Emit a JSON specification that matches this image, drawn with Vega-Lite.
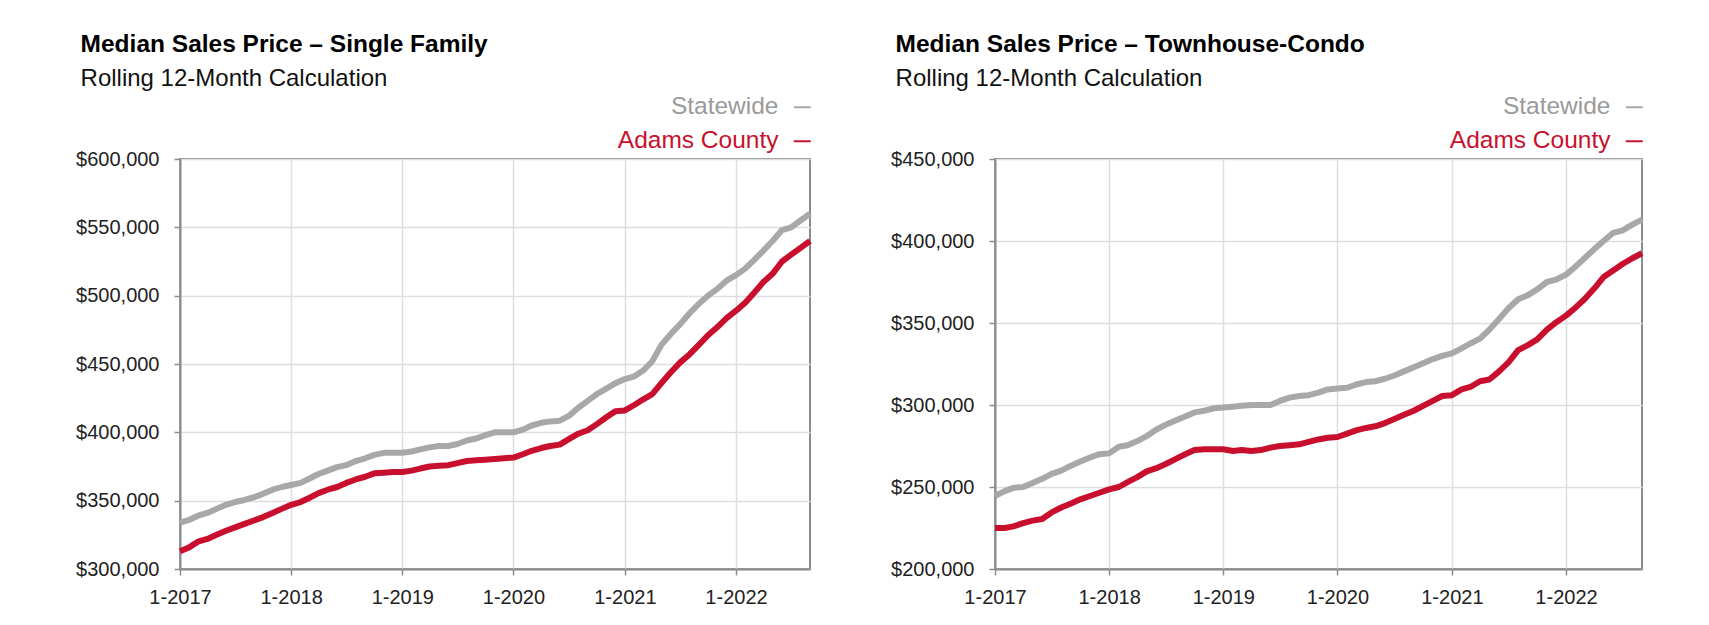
{
  "$schema": "https://vega.github.io/schema/vega-lite/v6.json",
  "background": "white",
  "padding": {"left": 74, "top": 31, "right": 5, "bottom": 5},
  "datasets": {
    "sf": [
      {"date":"2017-01-01","Statewide":334000,"Adams County":313000},
      {"date":"2017-02-01","Statewide":336000,"Adams County":316000},
      {"date":"2017-03-01","Statewide":339000,"Adams County":320000},
      {"date":"2017-04-01","Statewide":341000,"Adams County":322000},
      {"date":"2017-05-01","Statewide":344000,"Adams County":325000},
      {"date":"2017-06-01","Statewide":347000,"Adams County":328000},
      {"date":"2017-07-01","Statewide":349000,"Adams County":330500},
      {"date":"2017-08-01","Statewide":350500,"Adams County":333000},
      {"date":"2017-09-01","Statewide":352500,"Adams County":335500},
      {"date":"2017-10-01","Statewide":355000,"Adams County":338000},
      {"date":"2017-11-01","Statewide":358000,"Adams County":341000},
      {"date":"2017-12-01","Statewide":360000,"Adams County":344000},
      {"date":"2018-01-01","Statewide":361500,"Adams County":347000},
      {"date":"2018-02-01","Statewide":363000,"Adams County":349000},
      {"date":"2018-03-01","Statewide":366000,"Adams County":352000},
      {"date":"2018-04-01","Statewide":369500,"Adams County":355500},
      {"date":"2018-05-01","Statewide":372000,"Adams County":358000},
      {"date":"2018-06-01","Statewide":374500,"Adams County":360000},
      {"date":"2018-07-01","Statewide":376000,"Adams County":363000},
      {"date":"2018-08-01","Statewide":379000,"Adams County":365500},
      {"date":"2018-09-01","Statewide":381000,"Adams County":367500},
      {"date":"2018-10-01","Statewide":383500,"Adams County":370000},
      {"date":"2018-11-01","Statewide":385000,"Adams County":370500},
      {"date":"2018-12-01","Statewide":385000,"Adams County":371000},
      {"date":"2019-01-01","Statewide":385000,"Adams County":371000},
      {"date":"2019-02-01","Statewide":386000,"Adams County":372000},
      {"date":"2019-03-01","Statewide":387500,"Adams County":373500},
      {"date":"2019-04-01","Statewide":389000,"Adams County":375000},
      {"date":"2019-05-01","Statewide":390000,"Adams County":375500},
      {"date":"2019-06-01","Statewide":390000,"Adams County":376000},
      {"date":"2019-07-01","Statewide":391500,"Adams County":377500},
      {"date":"2019-08-01","Statewide":394000,"Adams County":379000},
      {"date":"2019-09-01","Statewide":395500,"Adams County":379500},
      {"date":"2019-10-01","Statewide":398000,"Adams County":380000},
      {"date":"2019-11-01","Statewide":400000,"Adams County":380500},
      {"date":"2019-12-01","Statewide":400000,"Adams County":381000},
      {"date":"2020-01-01","Statewide":400000,"Adams County":381500},
      {"date":"2020-02-01","Statewide":402000,"Adams County":384000},
      {"date":"2020-03-01","Statewide":405000,"Adams County":386500},
      {"date":"2020-04-01","Statewide":407000,"Adams County":388500},
      {"date":"2020-05-01","Statewide":408000,"Adams County":390000},
      {"date":"2020-06-01","Statewide":408500,"Adams County":391000},
      {"date":"2020-07-01","Statewide":412000,"Adams County":395000},
      {"date":"2020-08-01","Statewide":418000,"Adams County":399000},
      {"date":"2020-09-01","Statewide":423000,"Adams County":401500},
      {"date":"2020-10-01","Statewide":428000,"Adams County":406000},
      {"date":"2020-11-01","Statewide":432000,"Adams County":411000},
      {"date":"2020-12-01","Statewide":436000,"Adams County":415500},
      {"date":"2021-01-01","Statewide":439000,"Adams County":416000},
      {"date":"2021-02-01","Statewide":441000,"Adams County":420000},
      {"date":"2021-03-01","Statewide":445000,"Adams County":424000},
      {"date":"2021-04-01","Statewide":452000,"Adams County":428000},
      {"date":"2021-05-01","Statewide":464000,"Adams County":436000},
      {"date":"2021-06-01","Statewide":472000,"Adams County":444000},
      {"date":"2021-07-01","Statewide":479000,"Adams County":451000},
      {"date":"2021-08-01","Statewide":487000,"Adams County":457000},
      {"date":"2021-09-01","Statewide":494000,"Adams County":464000},
      {"date":"2021-10-01","Statewide":500000,"Adams County":471000},
      {"date":"2021-11-01","Statewide":505000,"Adams County":477000},
      {"date":"2021-12-01","Statewide":511000,"Adams County":483500},
      {"date":"2022-01-01","Statewide":515000,"Adams County":489000},
      {"date":"2022-02-01","Statewide":520000,"Adams County":495000},
      {"date":"2022-03-01","Statewide":526000,"Adams County":502000},
      {"date":"2022-04-01","Statewide":533000,"Adams County":510000},
      {"date":"2022-05-01","Statewide":540000,"Adams County":516000},
      {"date":"2022-06-01","Statewide":548000,"Adams County":525000},
      {"date":"2022-07-01","Statewide":550000,"Adams County":530000},
      {"date":"2022-08-01","Statewide":555000,"Adams County":535000},
      {"date":"2022-09-01","Statewide":560000,"Adams County":540000}
    ],
    "tc": [
      {"date":"2017-01-01","Statewide":244500,"Adams County":225000},
      {"date":"2017-02-01","Statewide":247500,"Adams County":225000},
      {"date":"2017-03-01","Statewide":249500,"Adams County":226000},
      {"date":"2017-04-01","Statewide":250000,"Adams County":228000},
      {"date":"2017-05-01","Statewide":252500,"Adams County":229500},
      {"date":"2017-06-01","Statewide":255000,"Adams County":230500},
      {"date":"2017-07-01","Statewide":258000,"Adams County":234500},
      {"date":"2017-08-01","Statewide":260000,"Adams County":237500},
      {"date":"2017-09-01","Statewide":263000,"Adams County":240000},
      {"date":"2017-10-01","Statewide":265500,"Adams County":242500},
      {"date":"2017-11-01","Statewide":268000,"Adams County":244500},
      {"date":"2017-12-01","Statewide":270000,"Adams County":246500},
      {"date":"2018-01-01","Statewide":270500,"Adams County":248500},
      {"date":"2018-02-01","Statewide":274500,"Adams County":250000},
      {"date":"2018-03-01","Statewide":275500,"Adams County":253000},
      {"date":"2018-04-01","Statewide":278000,"Adams County":256000},
      {"date":"2018-05-01","Statewide":281000,"Adams County":259500},
      {"date":"2018-06-01","Statewide":285000,"Adams County":261500},
      {"date":"2018-07-01","Statewide":288000,"Adams County":264000},
      {"date":"2018-08-01","Statewide":290500,"Adams County":267000},
      {"date":"2018-09-01","Statewide":293000,"Adams County":270000},
      {"date":"2018-10-01","Statewide":295500,"Adams County":272500},
      {"date":"2018-11-01","Statewide":296500,"Adams County":273000},
      {"date":"2018-12-01","Statewide":298000,"Adams County":273000},
      {"date":"2019-01-01","Statewide":298500,"Adams County":273000},
      {"date":"2019-02-01","Statewide":299000,"Adams County":272000},
      {"date":"2019-03-01","Statewide":299500,"Adams County":272500},
      {"date":"2019-04-01","Statewide":300000,"Adams County":272000},
      {"date":"2019-05-01","Statewide":300000,"Adams County":272500},
      {"date":"2019-06-01","Statewide":300000,"Adams County":274000},
      {"date":"2019-07-01","Statewide":302500,"Adams County":275000},
      {"date":"2019-08-01","Statewide":304500,"Adams County":275500},
      {"date":"2019-09-01","Statewide":305500,"Adams County":276000},
      {"date":"2019-10-01","Statewide":306000,"Adams County":277500},
      {"date":"2019-11-01","Statewide":307500,"Adams County":279000},
      {"date":"2019-12-01","Statewide":309500,"Adams County":280000},
      {"date":"2020-01-01","Statewide":310000,"Adams County":280500},
      {"date":"2020-02-01","Statewide":310500,"Adams County":282500},
      {"date":"2020-03-01","Statewide":312500,"Adams County":284500},
      {"date":"2020-04-01","Statewide":314000,"Adams County":286000},
      {"date":"2020-05-01","Statewide":314500,"Adams County":287000},
      {"date":"2020-06-01","Statewide":316000,"Adams County":289000},
      {"date":"2020-07-01","Statewide":318000,"Adams County":291500},
      {"date":"2020-08-01","Statewide":320500,"Adams County":294000},
      {"date":"2020-09-01","Statewide":323000,"Adams County":296500},
      {"date":"2020-10-01","Statewide":325500,"Adams County":299500},
      {"date":"2020-11-01","Statewide":328000,"Adams County":302500},
      {"date":"2020-12-01","Statewide":330000,"Adams County":305500},
      {"date":"2021-01-01","Statewide":331500,"Adams County":306000},
      {"date":"2021-02-01","Statewide":334500,"Adams County":309500},
      {"date":"2021-03-01","Statewide":337500,"Adams County":311000},
      {"date":"2021-04-01","Statewide":340500,"Adams County":314500},
      {"date":"2021-05-01","Statewide":346000,"Adams County":315500},
      {"date":"2021-06-01","Statewide":352500,"Adams County":320500},
      {"date":"2021-07-01","Statewide":359000,"Adams County":326000},
      {"date":"2021-08-01","Statewide":364500,"Adams County":333500},
      {"date":"2021-09-01","Statewide":367000,"Adams County":336500},
      {"date":"2021-10-01","Statewide":370500,"Adams County":340000},
      {"date":"2021-11-01","Statewide":375000,"Adams County":346000},
      {"date":"2021-12-01","Statewide":376500,"Adams County":350500},
      {"date":"2022-01-01","Statewide":379500,"Adams County":354500},
      {"date":"2022-02-01","Statewide":384500,"Adams County":359500},
      {"date":"2022-03-01","Statewide":389500,"Adams County":364500},
      {"date":"2022-04-01","Statewide":395000,"Adams County":371000},
      {"date":"2022-05-01","Statewide":400000,"Adams County":378000},
      {"date":"2022-06-01","Statewide":405000,"Adams County":382000},
      {"date":"2022-07-01","Statewide":406500,"Adams County":386000},
      {"date":"2022-08-01","Statewide":410000,"Adams County":389500},
      {"date":"2022-09-01","Statewide":413000,"Adams County":392500}
    ]
  },
  "hconcat": [
    {
      "width": 630,
      "height": 410,
      "data": {"name": "sf"},
      "transform": [{"fold": ["Statewide", "Adams County"], "as": ["series", "price"]}],
      "title": {"text": "Median Sales Price – Single Family", "subtitle": "Rolling 12-Month Calculation"},
      "mark": {"type": "line", "strokeWidth": 6, "strokeJoin": "round"},
      "encoding": {
        "x": {"field": "date", "type": "temporal", "scale": {"nice": false},
              "axis": {"title": null, "format": "%-m-%Y", "tickCount": {"interval": "year", "step": 1}, "labelFlush": false}},
        "y": {"field": "price", "type": "quantitative", "scale": {"domain": [300000, 600000], "nice": false},
              "axis": {"title": null, "format": "$,.0f", "values": [300000, 350000, 400000, 450000, 500000, 550000, 600000]}},
        "color": {"field": "series", "type": "nominal",
                  "scale": {"domain": ["Statewide", "Adams County"], "range": ["#a8a8a8", "#c8102e"]}}
      }
    },
    {
      "width": 647,
      "height": 410,
      "data": {"name": "tc"},
      "transform": [{"fold": ["Statewide", "Adams County"], "as": ["series", "price"]}],
      "title": {"text": "Median Sales Price – Townhouse-Condo", "subtitle": "Rolling 12-Month Calculation"},
      "mark": {"type": "line", "strokeWidth": 6, "strokeJoin": "round"},
      "encoding": {
        "x": {"field": "date", "type": "temporal", "scale": {"nice": false},
              "axis": {"title": null, "format": "%-m-%Y", "tickCount": {"interval": "year", "step": 1}, "labelFlush": false}},
        "y": {"field": "price", "type": "quantitative", "scale": {"domain": [200000, 450000], "nice": false},
              "axis": {"title": null, "format": "$,.0f", "values": [200000, 250000, 300000, 350000, 400000, 450000]}},
        "color": {"field": "series", "type": "nominal",
                  "scale": {"domain": ["Statewide", "Adams County"], "range": ["#a8a8a8", "#c8102e"]}}
      }
    }
  ],
  "spacing": 75,
  "resolve": {"legend": {"color": "independent"}},
  "config": {
    "font": "Liberation Sans",
    "view": {"stroke": "#8c8c8c", "strokeWidth": 2},
    "axis": {
      "labelFont": "Liberation Sans", "labelFontSize": 20, "labelColor": "#222222",
      "domainColor": "#8c8c8c", "domainWidth": 2,
      "tickColor": "#8c8c8c", "tickSize": 6, "tickWidth": 1.5,
      "gridColor": "#dedede", "gridWidth": 1.5
    },
    "axisX": {"labelPadding": 12},
    "axisY": {"labelPadding": 15},
    "legend": {
      "title": null,
      "orient": "top",
      "direction": "vertical",
      "symbolType": "stroke",
      "symbolSize": 289,
      "symbolStrokeWidth": 2,
      "labelFont": "Liberation Sans",
      "labelFontSize": 24.5,
      "labelAlign": "right",
      "labelOffset": -36,
      "rowPadding": 9,
      "labelLimit": 300,
      "padding": -5,
      "offset": 11,
      "labelColor": {"expr": "datum.value == 'Statewide' ? '#9a9a9a' : '#c8102e'"},
      "layout": {"top": {"anchor": "end"}}
    },
    "title": {
      "anchor": "start", "frame": "bounds",
      "font": "Liberation Sans", "fontSize": 24.5, "fontWeight": "bold", "color": "#000000",
      "subtitleFont": "Liberation Sans", "subtitleFontSize": 24, "subtitleColor": "#111111",
      "subtitlePadding": 9, "offset": 8.5, "dx": 5
    }
  }
}
